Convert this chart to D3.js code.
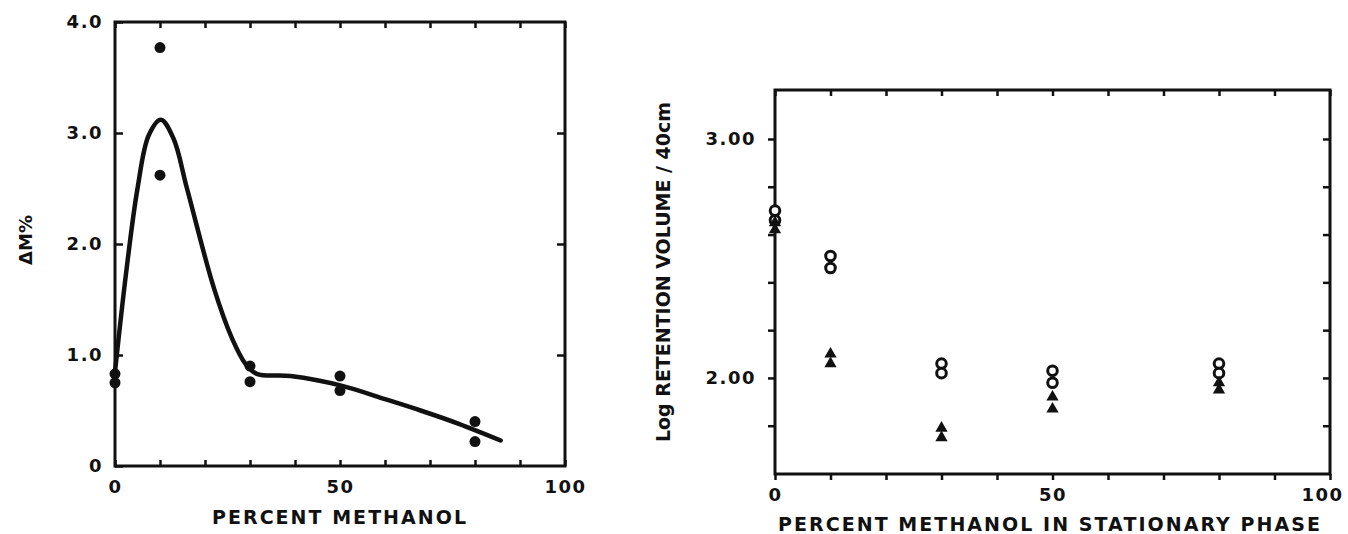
<!DOCTYPE html>
<html>
<head>
<meta charset="utf-8">
<script src="https://cdn.jsdelivr.net/npm/d3@7"></script>
<style>
  body { margin: 0; background: #fff; }
  text { font-family: "DejaVu Sans", sans-serif; font-weight: bold; fill: #111; }
</style>
</head>
<body>
<div id="chart"></div>
<script>
// left panel: delta M% vs percent methanol
const leftX = [0, 0, 10, 10, 30, 30, 50, 50, 80, 80];
const leftY = [0.83, 0.75, 3.77, 2.62, 0.90, 0.76, 0.81, 0.68, 0.40, 0.22];
// hand-drawn smooth curve through the data
const curveX = [0, 2.5, 5, 7.5, 10.2, 13, 16, 22, 26, 29, 31.5, 39, 50.7, 59.4, 67.9, 76.4, 85.7];
const curveY = [0.85, 1.75, 2.5, 2.98, 3.12, 2.95, 2.5, 1.6, 1.15, 0.92, 0.83, 0.81, 0.72, 0.61, 0.50, 0.38, 0.23];

// right panel: log retention volume
const circX = [0, 0, 10, 10, 30, 30, 50, 50, 80, 80];
const circY = [2.70, 2.66, 2.51, 2.46, 2.06, 2.02, 2.03, 1.98, 2.06, 2.02];
const triX = [0, 0, 10, 10, 30, 30, 50, 50, 80, 80];
const triY = [2.65, 2.62, 2.10, 2.06, 1.79, 1.75, 1.92, 1.87, 1.98, 1.95];

const leftTicksY = [1, 2, 3];
const leftLabelsY = [0, 1, 2, 3, 4];
const rightTicksY = [1.8, 2.0, 2.2, 2.4, 2.6, 2.8, 3.0];
const rightLabelsY = [2, 3];
const xTicks = d3.range(0, 101, 10);
const xLabels = [0, 50, 100];

const svg = d3.select("#chart")
  .append("svg")
    .attr("width", 1348)
    .attr("height", 534);

// ---------- left panel ----------
const x1 = d3.scaleLinear().domain([0, 100]).range([115, 565]);
const y1 = d3.scaleLinear().domain([0, 4]).range([466, 22]);

const fmtX = d => xLabels.includes(d) ? d : "";

svg.append("g")
  .attr("transform", `translate(0,${y1(0)})`)
  .call(d3.axisBottom(x1).tickValues(xTicks).tickSize(-6).tickFormat(fmtX).tickPadding(14));
svg.append("g")
  .attr("transform", `translate(0,${y1(4)})`)
  .call(d3.axisTop(x1).tickValues(xTicks).tickSize(-6).tickFormat(""));
svg.append("g")
  .attr("transform", `translate(${x1(0)},0)`)
  .call(d3.axisLeft(y1).tickValues(leftLabelsY).tickSize(-8).tickPadding(12)
    .tickFormat(d => d === 0 ? "0" : d3.format(".1f")(d)));
svg.append("g")
  .attr("transform", `translate(${x1(100)},0)`)
  .call(d3.axisRight(y1).tickValues(leftTicksY).tickSize(-8).tickFormat(""));

svg.append("rect")
  .attr("x", x1(0)).attr("y", y1(4))
  .attr("width", x1(100) - x1(0)).attr("height", y1(0) - y1(4))
  .attr("fill", "none").attr("stroke", "#111").attr("stroke-width", 3);

const line1 = d3.line()
  .x((d, i) => x1(curveX[i]))
  .y((d, i) => y1(curveY[i]))
  .curve(d3.curveCatmullRom);
svg.append("path")
  .attr("d", line1(curveX))
  .attr("fill", "none").attr("stroke", "#111").attr("stroke-width", 4.5)
  .attr("stroke-linecap", "round");

svg.selectAll("dot1")
  .data(leftX)
  .join("circle")
    .attr("cx", (d, i) => x1(d))
    .attr("cy", (d, i) => y1(leftY[i]))
    .attr("r", 5.5)
    .attr("fill", "#111");

svg.append("text")
  .attr("x", 339).attr("y", 524)
  .attr("text-anchor", "middle")
  .attr("font-size", 19)
  .attr("textLength", 254).attr("lengthAdjust", "spacing")
  .text("PERCENT  METHANOL");
svg.append("text")
  .attr("transform", "translate(32,240)rotate(-90)")
  .attr("text-anchor", "middle")
  .attr("font-size", 18)
  .text("ΔM%");

// ---------- right panel ----------
const x2 = d3.scaleLinear().domain([0, 100]).range([775, 1330]);
const y2 = d3.scaleLinear().domain([1.598, 3.205]).range([474, 90]);

const bottom2 = svg.append("g")
  .attr("transform", `translate(0,${y2.range()[0]})`)
  .call(d3.axisBottom(x2).tickValues(xTicks).tickSize(6).tickFormat(fmtX).tickPadding(8));
svg.append("g")
  .attr("transform", `translate(0,${y2.range()[1]})`)
  .call(d3.axisTop(x2).tickValues(xTicks).tickSize(-6).tickFormat(""));
svg.append("g")
  .attr("transform", `translate(${x2(0)},0)`)
  .call(d3.axisLeft(y2).tickValues(rightTicksY).tickSize(7).tickPadding(12)
    .tickFormat(d => rightLabelsY.includes(d) ? d3.format(".2f")(d) : ""));
svg.append("g")
  .attr("transform", `translate(${x2(100)},0)`)
  .call(d3.axisRight(y2).tickValues(rightTicksY).tickSize(-7).tickFormat(""));

svg.append("rect")
  .attr("x", x2(0)).attr("y", y2.range()[1])
  .attr("width", x2(100) - x2(0)).attr("height", y2.range()[0] - y2.range()[1])
  .attr("fill", "none").attr("stroke", "#111").attr("stroke-width", 3);

svg.selectAll("circ2")
  .data(circX)
  .join("circle")
    .attr("cx", d => x2(d))
    .attr("cy", (d, i) => y2(circY[i]))
    .attr("r", 4.8)
    .attr("fill", "#fff")
    .attr("stroke", "#111")
    .attr("stroke-width", 3);

svg.selectAll("tri2")
  .data(triX)
  .join("path")
    .attr("d", d3.symbol(d3.symbolTriangle, 65))
    .attr("transform", (d, i) => `translate(${x2(d)},${y2(triY[i])})`)
    .attr("fill", "#111");

svg.append("text")
  .attr("x", 1049).attr("y", 531)
  .attr("text-anchor", "middle")
  .attr("font-size", 19)
  .attr("textLength", 542).attr("lengthAdjust", "spacing")
  .text("PERCENT METHANOL IN STATIONARY PHASE");
svg.append("text")
  .attr("transform", "translate(670,272)rotate(-90)")
  .attr("text-anchor", "middle")
  .attr("font-size", 19)
  .attr("textLength", 340).attr("lengthAdjust", "spacing")
  .text("Log RETENTION VOLUME / 40cm");

// style axes like the print
svg.selectAll(".domain").remove();
svg.selectAll(".tick line").attr("stroke", "#111").attr("stroke-width", 2.5);
svg.selectAll(".tick text").attr("font-size", 18).attr("fill", "#111")
  .attr("letter-spacing", 1.5)
  .attr("font-family", "DejaVu Sans").attr("font-weight", "bold");
// the last label sits at the page edge, pull it in a little
bottom2.selectAll(".tick text").filter(d => d === 100).attr("dx", -8);
</script>
</body>
</html>
